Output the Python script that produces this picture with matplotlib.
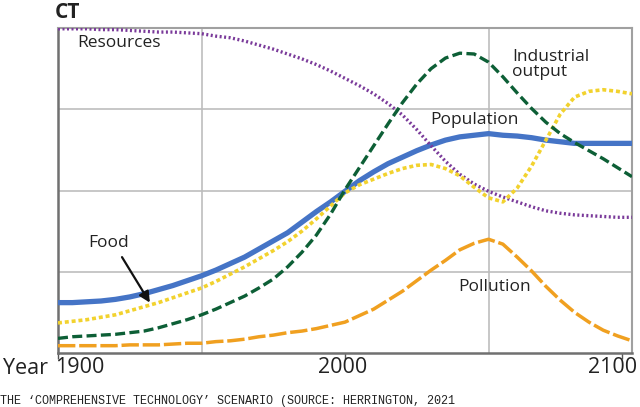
import matplotlib
matplotlib.use("Agg")
import matplotlib.pyplot as plt

# values (relative units, 0..4 scale), every 5 years
years = list(range(1900, 2101, 5))

population = [0.62, 0.62, 0.63, 0.64, 0.66, 0.69, 0.73, 0.78, 0.83, 0.89,
              0.95, 1.02, 1.10, 1.18, 1.28, 1.38, 1.48, 1.61, 1.74, 1.86,
              1.99, 2.12, 2.23, 2.33, 2.41, 2.49, 2.56, 2.62, 2.66, 2.68,
              2.70, 2.68, 2.67, 2.65, 2.62, 2.60, 2.58, 2.58, 2.58, 2.58, 2.58]

food = [0.37, 0.39, 0.41, 0.44, 0.47, 0.52, 0.57, 0.62, 0.68, 0.74,
        0.80, 0.88, 0.97, 1.06, 1.16, 1.26, 1.37, 1.50, 1.65, 1.81,
        1.97, 2.07, 2.14, 2.21, 2.27, 2.31, 2.32, 2.27, 2.18, 2.04,
        1.91, 1.86, 2.03, 2.30, 2.62, 2.94, 3.15, 3.22, 3.24, 3.22, 3.19]

industrial = [0.18, 0.20, 0.21, 0.22, 0.23, 0.25, 0.27, 0.31, 0.36, 0.41,
              0.47, 0.54, 0.62, 0.70, 0.80, 0.91, 1.06, 1.24, 1.45, 1.71,
              2.01, 2.28, 2.55, 2.82, 3.08, 3.31, 3.50, 3.63, 3.69, 3.68,
              3.58, 3.40, 3.20, 3.01, 2.84, 2.70, 2.59, 2.49, 2.39, 2.28, 2.17]

resources = [3.99, 3.99, 3.99, 3.98, 3.98, 3.97, 3.96, 3.95, 3.95, 3.94,
             3.93, 3.90, 3.88, 3.84, 3.79, 3.74, 3.68, 3.62, 3.55, 3.47,
             3.38, 3.29, 3.19, 3.07, 2.93, 2.75, 2.55, 2.36, 2.20, 2.08,
             1.99, 1.92, 1.86, 1.80, 1.75, 1.72, 1.70, 1.69, 1.68, 1.67, 1.67]

pollution = [0.09, 0.09, 0.09, 0.09, 0.09, 0.10, 0.10, 0.10, 0.11, 0.12,
             0.12, 0.14, 0.15, 0.17, 0.20, 0.22, 0.25, 0.27, 0.30, 0.34,
             0.38, 0.46, 0.54, 0.65, 0.76, 0.89, 1.02, 1.14, 1.27, 1.35,
             1.40, 1.34, 1.18, 1.01, 0.82, 0.65, 0.50, 0.38, 0.28, 0.21, 0.15]

tick_pos = [1900, 2000, 2096.5]
tick_labels = ["1900", "2000", "2100"]
label_pos = [1898.9, 1999, 2093.4]

plt.rcParams['font.family'] = ['Open Sans', 'DejaVu Sans']

fig = plt.figure(figsize=(6.4, 4.07), dpi=100)
ax = fig.add_axes([58/640, 1 - 353/407, 574/640, 325/407])

ax.plot(years, population, color='#4574c6', lw=3.8, solid_joinstyle='round', zorder=3)
ax.plot(years, pollution, color='#f0a020', lw=2.5, dashes=(5, 1.1), zorder=4)
ax.plot(years, resources, color='#7a3a9a', lw=2.4, dashes=(0.6, 0.75), zorder=4)
ax.plot(years, food, color='#f2d22e', lw=2.6, dashes=(1.1, 0.8), zorder=5)
ax.plot(years, industrial, color='#0d5f36', lw=2.4, dashes=(3.0, 1.3), zorder=6)

ax.set_xlim(1900, 2100)
ax.set_ylim(0, 4)

# grid
ax.set_yticks([1, 2, 3])
ax.set_xticks([1950, 2000, 2050], minor=True)
ax.grid(True, axis='y', which='major', color='#bdbdbd', lw=1.2)
ax.grid(True, axis='x', which='minor', color='#bdbdbd', lw=1.2)
ax.tick_params(axis='y', length=0, labelleft=False)
ax.tick_params(axis='x', which='minor', length=0)
ax.set_xticks(tick_pos, ["", "", ""])
ax.tick_params(axis='x', which='major', length=4, width=1, color='#555555')

# tick labels placed by hand ("1900" starts at the axis, "2100" sits left of its tick)
for pos, txt, ha in zip(label_pos, tick_labels, ['left', 'center', 'center']):
    ax.text(pos, -0.046, txt, transform=ax.get_xaxis_transform(), fontsize=15.5,
            color='#222222', ha=ha, va='center')

for side in ['left', 'bottom']:
    ax.spines[side].set_color('#707070')
    ax.spines[side].set_linewidth(1.8)
for side in ['top', 'right']:
    ax.spines[side].set_color('#a0a0a0')
    ax.spines[side].set_linewidth(1.5)

# curve labels
lab = dict(fontsize=12.5, color='#222222', va='center', ha='left')
ax.text(1906.6, 3.82, "Resources", **lab)
ax.text(2058.2, 3.55, "Industrial\noutput", linespacing=0.95, **lab)
ax.text(2029.6, 2.87, "Population", **lab)
ax.text(1910.5, 1.35, "Food", **lab)
ax.text(2039.4, 0.81, "Pollution", **lab)
ax.annotate("", xy=(1932, 0.62), xytext=(1922.3, 1.18),
            arrowprops=dict(arrowstyle='-|>', color='#111111', lw=1.6,
                            mutation_scale=16, shrinkA=0, shrinkB=0), zorder=7)

fig.text(55/640, 1 - 12/407, "CT", fontsize=15, fontweight='bold', color='#222222',
         va='center', ha='left')
fig.text(3/640, 1 - 368/407, "Year", fontsize=15.5, color='#222222', va='center', ha='left')
fig.text(0, 1 - 401/407, "THE \u2018COMPREHENSIVE TECHNOLOGY\u2019 SCENARIO (SOURCE: HERRINGTON, 2021",
         fontsize=8.5, family=['Liberation Mono', 'DejaVu Sans Mono'], color='#222222',
         va='center', ha='left')

fig.savefig("out.png", dpi=100)
